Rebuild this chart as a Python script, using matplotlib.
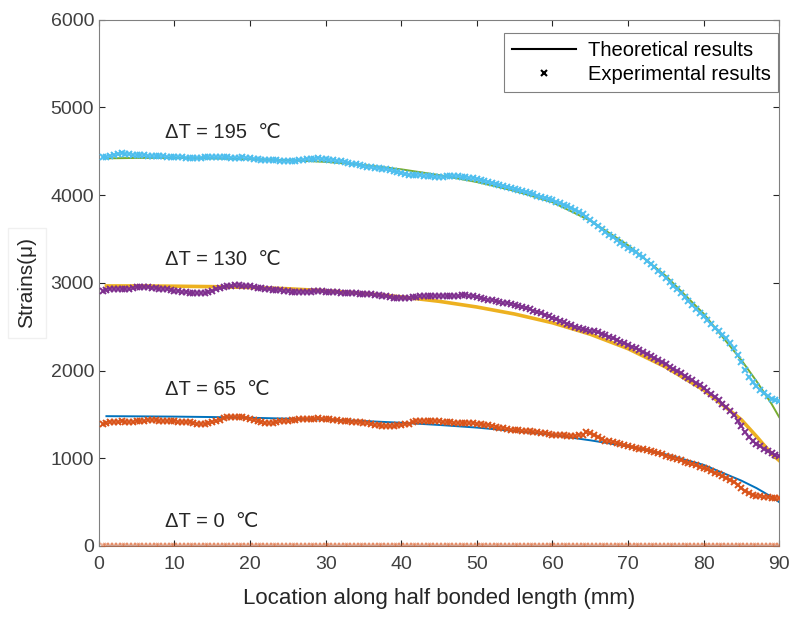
"""
Strain along the half bonded length for four temperature changes:
theoretical curves (lines) against measured strains (x markers).
"""

import matplotlib
matplotlib.use('Agg')
import matplotlib.pyplot as plt
from matplotlib.lines import Line2D
import numpy as np


# Data
# =====
# experimental readings every 0.5 mm, 0.5 .. 90 mm
X_EXP = np.arange(1, 181) * 0.5

EXP_195 = [
    4430, 4440, 4452, 4462, 4470, 4476, 4470, 4466, 4462, 4460,
    4458, 4455, 4452, 4450, 4446, 4445, 4442, 4440, 4441, 4440,
    4437, 4433, 4428, 4424, 4420, 4420, 4425, 4430, 4436, 4440,
    4437, 4434, 4432, 4430, 4427, 4425, 4428, 4430, 4425, 4420,
    4415, 4410, 4407, 4405, 4402, 4400, 4397, 4395, 4392, 4390,
    4392, 4395, 4400, 4405, 4410, 4415, 4418, 4420, 4415, 4410,
    4405, 4400, 4392, 4385, 4378, 4370, 4360, 4350, 4340, 4330,
    4325, 4320, 4315, 4310, 4302, 4295, 4285, 4275, 4265, 4255,
    4245, 4235, 4232, 4230, 4225, 4220, 4218, 4215, 4212, 4210,
    4212, 4215, 4218, 4220, 4215, 4210, 4205, 4200, 4192, 4185,
    4172, 4160, 4150, 4140, 4128, 4115, 4105, 4095, 4082, 4070,
    4058, 4045, 4032, 4020, 4008, 3995, 3982, 3970, 3955, 3940,
    3925, 3910, 3892, 3875, 3852, 3830, 3805, 3780, 3750, 3720,
    3685, 3650, 3615, 3580, 3550, 3520, 3490, 3460, 3430, 3400,
    3375, 3350, 3320, 3290, 3255, 3220, 3180, 3140, 3100, 3060,
    3015, 2970, 2925, 2880, 2835, 2790, 2745, 2700, 2660, 2620,
    2575, 2530, 2490, 2450, 2410, 2370, 2320, 2260, 2180, 2100,
    2010, 1930, 1870, 1820, 1780, 1740, 1710, 1680, 1665, 1650,
]

EXP_130 = [
    2905, 2915, 2925, 2930, 2928, 2925, 2930, 2935, 2942, 2950,
    2953, 2955, 2950, 2945, 2940, 2935, 2930, 2925, 2918, 2910,
    2905, 2900, 2895, 2890, 2885, 2880, 2880, 2885, 2895, 2910,
    2928, 2945, 2955, 2965, 2970, 2975, 2973, 2970, 2965, 2960,
    2952, 2945, 2938, 2930, 2925, 2920, 2918, 2915, 2910, 2905,
    2900, 2895, 2893, 2895, 2898, 2900, 2903, 2905, 2903, 2900,
    2898, 2895, 2893, 2890, 2888, 2885, 2883, 2880, 2878, 2875,
    2873, 2870, 2865, 2860, 2853, 2845, 2838, 2830, 2827, 2825,
    2827, 2830, 2835, 2840, 2845, 2850, 2850, 2850, 2848, 2845,
    2845, 2845, 2848, 2850, 2855, 2860, 2858, 2855, 2848, 2840,
    2830, 2820, 2810, 2800, 2790, 2780, 2772, 2765, 2758, 2750,
    2738, 2725, 2712, 2700, 2685, 2670, 2652, 2635, 2618, 2600,
    2585, 2570, 2552, 2535, 2518, 2500, 2485, 2470, 2462, 2455,
    2448, 2440, 2422, 2405, 2388, 2370, 2350, 2330, 2310, 2290,
    2272, 2255, 2235, 2215, 2192, 2170, 2145, 2120, 2095, 2070,
    2045, 2020, 1995, 1970, 1942, 1915, 1888, 1860, 1830, 1800,
    1765, 1730, 1695, 1660, 1620, 1580, 1535, 1490, 1430, 1370,
    1305, 1240, 1200, 1160, 1135, 1110, 1085, 1060, 1042, 1025,
]

EXP_65 = [
    1395, 1400, 1408, 1415, 1418, 1420, 1418, 1415, 1418, 1420,
    1425, 1430, 1433, 1435, 1433, 1430, 1428, 1425, 1422, 1420,
    1418, 1415, 1412, 1410, 1402, 1395, 1392, 1390, 1400, 1410,
    1425, 1440, 1455, 1470, 1473, 1475, 1470, 1465, 1458, 1450,
    1435, 1420, 1410, 1400, 1402, 1405, 1412, 1420, 1425, 1430,
    1435, 1440, 1443, 1445, 1448, 1450, 1453, 1455, 1453, 1450,
    1445, 1440, 1435, 1430, 1425, 1420, 1415, 1410, 1408, 1405,
    1400, 1395, 1385, 1375, 1370, 1365, 1368, 1370, 1375, 1380,
    1388, 1395, 1408, 1420, 1425, 1430, 1428, 1425, 1422, 1420,
    1415, 1410, 1408, 1405, 1402, 1400, 1400, 1400, 1398, 1395,
    1390, 1385, 1378, 1370, 1360, 1350, 1340, 1330, 1325, 1320,
    1318, 1315, 1312, 1310, 1305, 1300, 1292, 1285, 1278, 1270,
    1266, 1262, 1260, 1258, 1256, 1255, 1262, 1270, 1300, 1290,
    1265, 1240, 1220, 1200, 1192, 1185, 1172, 1160, 1150, 1140,
    1130, 1120, 1110, 1100, 1092, 1085, 1072, 1060, 1045, 1030,
    1015, 1000, 988, 975, 962, 950, 935, 920, 905, 890,
    872, 855, 835, 815, 798, 780, 755, 730, 695, 660,
    630, 600, 585, 570, 565, 560, 555, 550, 548, 545,
]

EXP_0 = [
    0, 0, 0, 0, 0, 0, 0, 0, 0, 0,
    0, 0, 0, 0, 0, 0, 0, 0, 0, 0,
    0, 0, 0, 0, 0, 0, 0, 0, 0, 0,
    0, 0, 0, 0, 0, 0, 0, 0, 0, 0,
    0, 0, 0, 0, 0, 0, 0, 0, 0, 0,
    0, 0, 0, 0, 0, 0, 0, 0, 0, 0,
    0, 0, 0, 0, 0, 0, 0, 0, 0, 0,
    0, 0, 0, 0, 0, 0, 0, 0, 0, 0,
    0, 0, 0, 0, 0, 0, 0, 0, 0, 0,
    0, 0, 0, 0, 0, 0, 0, 0, 0, 0,
    0, 0, 0, 0, 0, 0, 0, 0, 0, 0,
    0, 0, 0, 0, 0, 0, 0, 0, 0, 0,
    0, 0, 0, 0, 0, 0, 0, 0, 0, 0,
    0, 0, 0, 0, 0, 0, 0, 0, 0, 0,
    0, 0, 0, 0, 0, 0, 0, 0, 0, 0,
    0, 0, 0, 0, 0, 0, 0, 0, 0, 0,
    0, 0, 0, 0, 0, 0, 0, 0, 0, 0,
    0, 0, 0, 0, 0, 0, 0, 0, 0, 0,
]

# theoretical curves
X_THEORY = [1, 5, 10, 15, 20, 25, 30, 35, 40, 45, 50, 55, 60, 65, 70, 75, 80, 85, 87, 89, 90]
THEORY_195 = [4420, 4425, 4425, 4420, 4410, 4400, 4380, 4345, 4295, 4230, 4150,
              4050, 3920, 3710, 3430, 3080, 2650, 2120, 1880, 1620, 1470]
THEORY_130 = [2965, 2965, 2962, 2957, 2948, 2933, 2910, 2880, 2840, 2790, 2725,
              2645, 2545, 2415, 2250, 2040, 1780, 1440, 1250, 1050, 975]
THEORY_65 = [1480, 1478, 1475, 1470, 1462, 1452, 1440, 1425, 1405, 1380, 1350,
             1310, 1265, 1205, 1135, 1045, 925, 745, 660, 560, 500]
THEORY_0 = [0, 0, 0, 0, 0, 0, 0, 0, 0, 0, 0, 0, 0, 0, 0, 0, 0, 0, 0, 0, 0]

LABELS = ['ΔT = 195  ℃', 'ΔT = 130  ℃', 'ΔT = 65  ℃', 'ΔT = 0  ℃']
LABEL_Y = [4710, 3270, 1780, 275]


# Plot
# =====
plt.rcParams['font.family'] = ['Liberation Sans', 'DejaVu Sans']

fig = plt.figure(figsize=(7.91, 6.19), dpi=100)
ax = fig.add_axes([0.125, 0.118, 0.86, 0.85])

# theory lines underneath, markers on top
ax.plot(X_THEORY, THEORY_195, color='#77AC30', lw=1.4, zorder=2)
ax.plot(X_THEORY, THEORY_130, color='#EDB120', lw=2.6, zorder=2)
ax.plot(X_THEORY, THEORY_65, color='#0072BD', lw=1.4, zorder=2)
ax.plot(X_THEORY, THEORY_0, color='#0072BD', lw=1.0, zorder=2)

mk = dict(ls='none', marker='x', ms=4.5, mew=1.4, zorder=3)
ax.plot(X_EXP, EXP_195, color='#4DBEEE', **mk)
ax.plot(X_EXP, EXP_130, color='#7E2F8E', **mk)
ax.plot(X_EXP, EXP_65, color='#D95319', **mk)
ax.plot(X_EXP, EXP_0, color='#D95319', alpha=0.45, **mk)

for lab, y in zip(LABELS, LABEL_Y):
    ax.text(8.7, y, lab, fontsize=14.5, color='#262626', va='center', ha='left')

ax.set_xlim(0, 90)
ax.set_ylim(0, 6000)
ax.set_xticks(range(0, 91, 10))
ax.set_yticks(range(0, 6001, 1000))
ax.tick_params(direction='in', top=True, right=True, length=4, width=0.8,
               color='#262626', labelcolor='#404040', labelsize=14)
ax.tick_params(axis='x', pad=7)
for sp in ax.spines.values():
    sp.set_color('#808080')
    sp.set_linewidth(0.8)

ax.set_xlabel('Location along half bonded length (mm)', fontsize=16, color='#262626', labelpad=11)
ax.set_ylabel('Strains(μ)', fontsize=15, color='#262626', labelpad=10,
              bbox=dict(facecolor='white', edgecolor='#f0f0f0', pad=7))

handles = [Line2D([], [], color='black', lw=1.5),
           Line2D([], [], color='black', ls='none', marker='x', ms=5, mew=1.5)]
leg = ax.legend(handles, ['Theoretical results', 'Experimental results'],
                loc='upper right', fontsize=14.5, fancybox=False, framealpha=1,
                edgecolor='#808080', handlelength=3.2, handletextpad=0.55,
                borderpad=0.4, labelspacing=0.25, borderaxespad=0,
                bbox_to_anchor=(0.999, 0.975))
leg.get_frame().set_linewidth(0.8)

fig.savefig('out.png', dpi=100)
